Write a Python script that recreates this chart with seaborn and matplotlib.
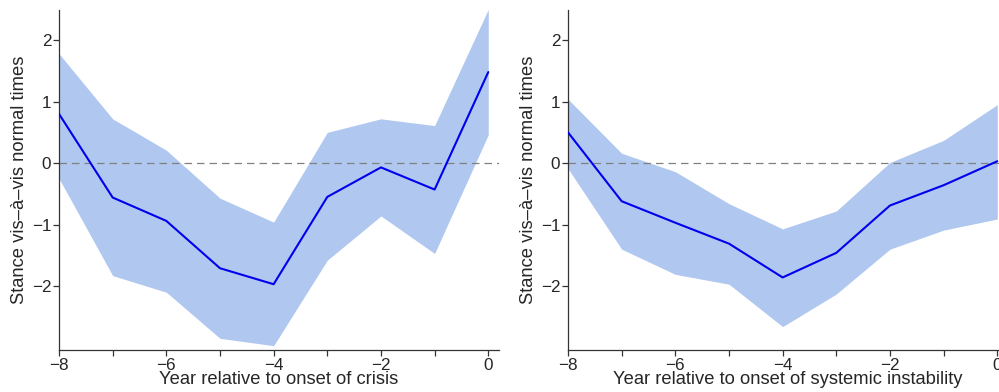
import matplotlib
matplotlib.use("Agg")
import matplotlib.pyplot as plt
import seaborn as sns
import pandas as pd

years = [-8, -7, -6, -5, -4, -3, -2, -1, 0]

crisis_mean = [0.80, -0.56, -0.94, -1.71, -1.97, -0.55, -0.07, -0.43, 1.48]
crisis_upper = [1.78, 0.72, 0.21, -0.57, -0.96, 0.50, 0.72, 0.61, 2.50]
crisis_lower = [-0.25, -1.83, -2.10, -2.85, -2.97, -1.58, -0.86, -1.47, 0.46]

instab_mean = [0.50, -0.62, -0.97, -1.31, -1.86, -1.46, -0.69, -0.36, 0.03]
instab_upper = [1.04, 0.16, -0.14, -0.66, -1.07, -0.78, 0.01, 0.37, 0.95]
instab_lower = [-0.09, -1.40, -1.81, -1.97, -2.66, -2.13, -1.40, -1.09, -0.91]

xlabels = ["Year relative to onset of crisis",
           "Year relative to onset of systemic instability"]
ylabel = "Stance vis\u2013\u00e0\u2013vis normal times"

sns.set_theme(style="ticks")
plt.rcParams["font.family"] = ["Liberation Sans", "DejaVu Sans"]

fig = plt.figure(figsize=(9.99, 3.92), dpi=100)
ax1 = fig.add_axes([59/999, 42/392, 440/999, 340/392])
ax2 = fig.add_axes([568/999, 42/392, 440/999, 340/392])

panels = [
    (ax1, crisis_mean, crisis_lower, crisis_upper, xlabels[0]),
    (ax2, instab_mean, instab_lower, instab_upper, xlabels[1]),
]

for ax, m, lo, hi, xl in panels:
    df = pd.DataFrame({"year": years, "mean": m, "lo": lo, "hi": hi})
    ax.fill_between(df["year"], df["lo"], df["hi"], color="#b0c8f0", linewidth=0, zorder=1)
    ax.axhline(0, color="#808080", linestyle=(0, (6, 4)), linewidth=0.9, zorder=2)
    sns.lineplot(data=df, x="year", y="mean", ax=ax, color="#0000ee", linewidth=1.5, zorder=3)
    ax.set_xlim(-8, 0.2)
    ax.set_ylim(-3.04, 2.49)
    ax.set_xticks(years)
    ax.set_xticklabels(["\u22128", "", "\u22126", "", "\u22124", "", "\u22122", "", "0"])
    ax.set_yticks([-2, -1, 0, 1, 2])
    ax.set_yticklabels(["\u22122", "\u22121", "0", "1", "2"])
    ax.tick_params(axis="both", labelsize=12.3, length=4, width=0.9, color="#333333", pad=1.5)
    ax.set_xlabel(xl, fontsize=13.2, labelpad=-1)
    ax.set_ylabel(ylabel, fontsize=13.2, labelpad=3)
    for s in ["top", "right"]:
        ax.spines[s].set_visible(False)
    for s in ["left", "bottom"]:
        ax.spines[s].set_color("#333333")
        ax.spines[s].set_linewidth(0.9)

fig.savefig("out.png", dpi=100)
